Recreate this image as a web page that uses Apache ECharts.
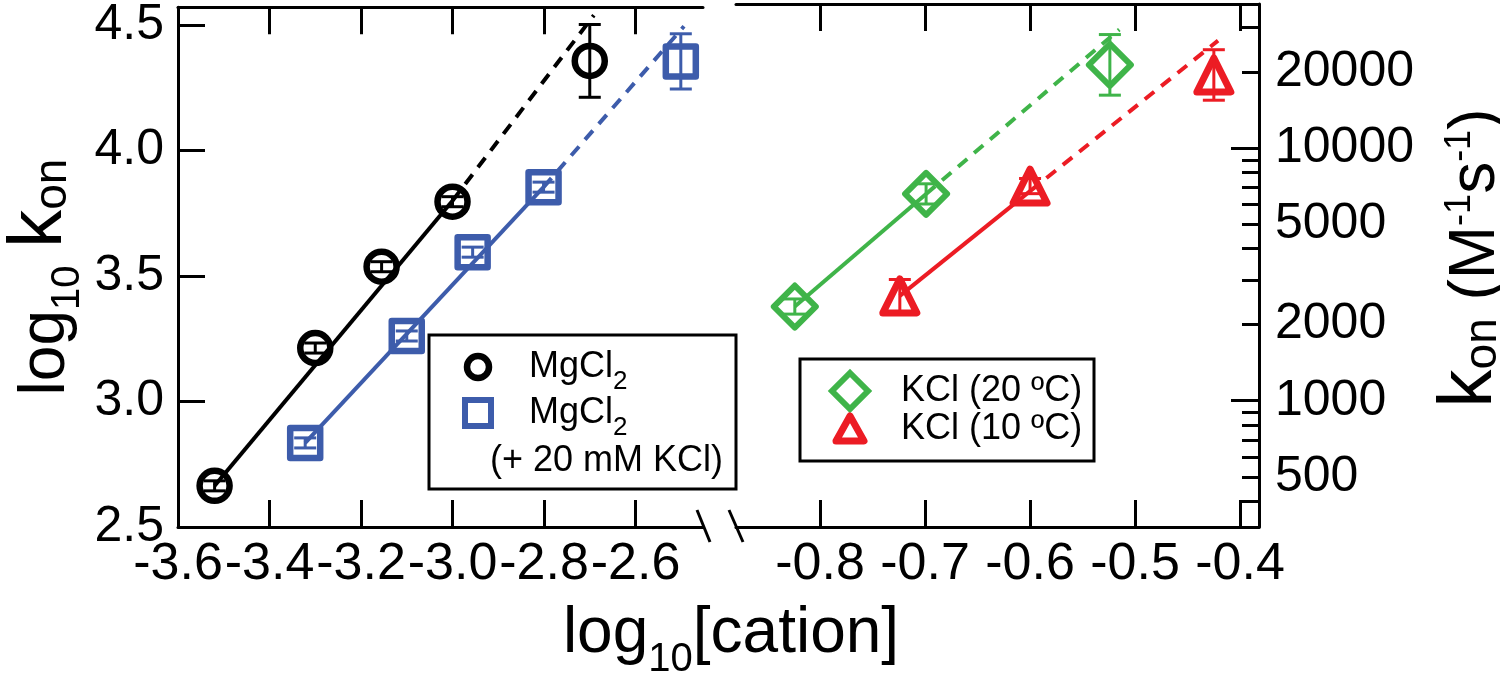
<!DOCTYPE html>
<html>
<head>
<meta charset="utf-8">
<script src="https://cdn.jsdelivr.net/npm/echarts@6.0.0/dist/echarts.min.js"></script>
<style>
html,body{margin:0;padding:0;background:#fff;}
#chart{width:1500px;height:677px;}
</style>
</head>
<body>
<div id="chart"></div>
<script>
// ---- data (log10 units) ----
const mgX   = [-3.52, -3.30, -3.155, -3.00, -2.70];
const mgY   = [2.664, 3.213, 3.537, 3.796, 4.357];
const mgErr = [0.02, 0.02, 0.02, 0.02, 0.145];

const mgKX   = [-3.322, -3.10, -2.956, -2.801, -2.501];
const mgKY   = [2.835, 3.261, 3.595, 3.854, 4.355];
const mgKErr = [0.02, 0.02, 0.02, 0.02, 0.11];

const k20X   = [-0.824, -0.699, -0.524];
const k20Y   = [3.373, 3.819, 4.33];
const k20Err = [0.03, 0.04, 0.12];

const k10X   = [-0.724, -0.600, -0.425];
const k10Y   = [3.415, 3.85, 4.29];
const k10Err = [0.065, 0.03, 0.10];

// fitted lines: solid part and dashed extrapolation
const mgFitSolid  = [[-3.52, 2.664], [-3.0, 3.80]];
const mgFitDash   = [[-3.0, 3.80], [-2.691, 4.539]];
const mgKFitSolid = [[-3.322, 2.835], [-2.801, 3.854]];
const mgKFitDash  = [[-2.801, 3.854], [-2.494, 4.495]];
const k20FitSolid = [[-0.824, 3.373], [-0.699, 3.819]];
const k20FitDash  = [[-0.699, 3.819], [-0.515, 4.47]];
const k10FitSolid = [[-0.724, 3.415], [-0.600, 3.83]];
const k10FitDash  = [[-0.600, 3.83], [-0.421, 4.426]];

// tick labels
const leftXTicks  = [-3.6, -3.4, -3.2, -3.0, -2.8, -2.6];
const rightXTicks = [-0.8, -0.7, -0.6, -0.5, -0.4];
const yTicks      = [2.5, 3.0, 3.5, 4.0, 4.5];
const konLabels   = [500, 1000, 2000, 5000, 10000, 20000];
const konMajor    = [1000, 10000];
const konMinor    = [400, 500, 600, 700, 800, 900, 2000, 3000, 4000, 5000, 6000, 7000, 8000, 9000, 20000, 30000];

// ---- styling ----
const FONT = 'Liberation Sans, Arial, Helvetica, sans-serif';
const BLACK = '#000000', BLUE = '#3d5cab', GREEN = '#3fb449', RED = '#ec1c24';
const AXW = 3;

const chart = echarts.init(document.getElementById('chart'), null, {renderer: 'canvas'});

function xAx(grid, pos, min, max, ticks, labels) {
  return {
    type: 'value', gridIndex: grid, position: pos, min: min, max: max,
    axisLine: {show: true, onZero: false, lineStyle: {color: BLACK, width: AXW}},
    axisTick: {show: true, inside: true, length: 27, customValues: ticks, lineStyle: {color: BLACK, width: AXW}},
    axisLabel: {show: labels, customValues: ticks, margin: 12, color: BLACK, fontSize: 52, fontFamily: FONT,
      formatter: v => v.toFixed(1)},
    splitLine: {show: false}
  };
}

const errRender = (color) => function (params, api) {
  const x = api.value(0), y = api.value(1), e = api.value(2);
  const t = api.coord([x, y + e]), b = api.coord([x, y - e]);
  const hw = 11;
  const st = {stroke: color, lineWidth: 3};
  return {type: 'group', children: [
    {type: 'line', shape: {x1: t[0], y1: t[1], x2: b[0], y2: b[1]}, style: st},
    {type: 'line', shape: {x1: t[0] - hw, y1: t[1], x2: t[0] + hw, y2: t[1]}, style: st},
    {type: 'line', shape: {x1: b[0] - hw, y1: b[1], x2: b[0] + hw, y2: b[1]}, style: st}
  ]};
};

function fit(data, color, dashed, xi, yi) {
  return {type: 'line', data: data, xAxisIndex: xi, yAxisIndex: yi, symbol: 'none', silent: true, z: 2,
    lineStyle: {color: color, width: 4, type: dashed ? [12, 9] : 'solid', opacity: 1}};
}
function pts(name, xs, ys, sym, size, bw, color, xi, yi) {
  return {type: 'scatter', name: name, data: xs.map((x, i) => [x, ys[i]]), xAxisIndex: xi, yAxisIndex: yi,
    symbol: sym, symbolSize: size, z: 3,
    itemStyle: {color: 'rgba(255,255,255,0)', borderColor: color, borderWidth: bw, borderJoin: 'round', opacity: 1}};
}
function errs(xs, ys, es, color, xi, yi) {
  return {type: 'custom', coordinateSystem: 'cartesian2d', xAxisIndex: xi, yAxisIndex: yi, z: 4,
    data: xs.map((x, i) => [x, ys[i], es[i]]), renderItem: errRender(color)};
}

const L = Math.log10;

const option = {
  animation: false,
  backgroundColor: '#ffffff',
  grid: [
    {left: 178, right: 797, top: 4, bottom: 150},
    {left: 736, right: 241, top: 4, bottom: 150}
  ],
  xAxis: [
    xAx(0, 'bottom', -3.6, -2.4525, leftXTicks, true),
    xAx(0, 'top', -3.6, -2.4525, leftXTicks, false),
    xAx(1, 'bottom', -0.88, -0.382, rightXTicks, true),
    xAx(1, 'top', -0.88, -0.382, rightXTicks, false)
  ],
  yAxis: [
    {type: 'value', gridIndex: 0, position: 'left', min: 2.5, max: 4.571,
      axisLine: {show: true, lineStyle: {color: BLACK, width: AXW}},
      axisTick: {show: true, inside: true, length: 27, customValues: yTicks, lineStyle: {color: BLACK, width: AXW}},
      axisLabel: {customValues: yTicks, margin: 14, color: BLACK, fontSize: 50, fontFamily: FONT,
        formatter: v => v.toFixed(1)},
      splitLine: {show: false}},
    {type: 'value', gridIndex: 1, position: 'right', min: 2.5, max: 4.571,
      axisLine: {show: true, lineStyle: {color: BLACK, width: AXW}},
      axisTick: {show: true, inside: true, length: 28, customValues: konMajor.map(L), lineStyle: {color: BLACK, width: AXW}},
      axisLabel: {customValues: konLabels.map(L), margin: 16, color: BLACK, fontSize: 50, fontFamily: FONT,
        formatter: v => String(Math.round(Math.pow(10, v)))},
      splitLine: {show: false}},
    {type: 'value', gridIndex: 1, position: 'right', min: 2.5, max: 4.571,
      axisLine: {show: false},
      axisTick: {show: true, inside: true, length: 17, customValues: konMinor.map(L), lineStyle: {color: BLACK, width: AXW}},
      axisLabel: {show: false},
      splitLine: {show: false}}
  ],
  series: [
    fit(mgFitSolid, BLACK, false, 0, 0), fit(mgFitDash, BLACK, true, 0, 0),
    fit(mgKFitSolid, BLUE, false, 0, 0), fit(mgKFitDash, BLUE, true, 0, 0),
    fit(k20FitSolid, GREEN, false, 2, 1), fit(k20FitDash, GREEN, true, 2, 1),
    fit(k10FitSolid, RED, false, 2, 1), fit(k10FitDash, RED, true, 2, 1),
    pts('MgCl2', mgX, mgY, 'circle', 30, 6.5, BLACK, 0, 0),
    pts('MgCl2 (+ 20 mM KCl)', mgKX, mgKY, 'rect', 30, 6.5, BLUE, 0, 0),
    pts('KCl (20 ºC)', k20X, k20Y, 'diamond', 42, 6, GREEN, 2, 1),
    pts('KCl (10 ºC)', k10X, k10Y, 'triangle', 34, 7, RED, 2, 1),
    errs(mgX, mgY, mgErr, BLACK, 0, 0),
    errs(mgKX, mgKY, mgKErr, BLUE, 0, 0),
    errs(k20X, k20Y, k20Err, GREEN, 2, 1),
    errs(k10X, k10Y, k10Err, RED, 2, 1)
  ],
  graphic: [
    // axis break marks
    {type: 'line', z: 100, shape: {x1: 697, y1: 510, x2: 710, y2: 542}, style: {stroke: BLACK, lineWidth: 3}},
    {type: 'line', z: 100, shape: {x1: 729, y1: 510, x2: 743, y2: 542}, style: {stroke: BLACK, lineWidth: 3}},
    // left legend
    {type: 'rect', z: 100, shape: {x: 429, y: 335, width: 307, height: 154}, style: {fill: '#fff', stroke: BLACK, lineWidth: 3}},
    {type: 'circle', z: 101, shape: {cx: 478, cy: 367, r: 11}, style: {fill: 'none', stroke: BLACK, lineWidth: 6.5}},
    {type: 'text', z: 101, x: 529, y: 367, style: {text: '{m|MgCl}{s|2}', textVerticalAlign: 'middle', fill: BLACK,
      rich: {m: {fontSize: 36, fontFamily: FONT, lineHeight: 36, verticalAlign: 'top'},
             s: {fontSize: 26, fontFamily: FONT, lineHeight: 26, padding: [20, 0, 0, 0], verticalAlign: 'top'}}}},
    {type: 'rect', z: 101, shape: {x: 465, y: 400, width: 26, height: 26}, style: {fill: 'none', stroke: BLUE, lineWidth: 6}},
    {type: 'text', z: 101, x: 529, y: 413, style: {text: '{m|MgCl}{s|2}', textVerticalAlign: 'middle', fill: BLACK,
      rich: {m: {fontSize: 36, fontFamily: FONT, lineHeight: 36, verticalAlign: 'top'},
             s: {fontSize: 26, fontFamily: FONT, lineHeight: 26, padding: [20, 0, 0, 0], verticalAlign: 'top'}}}},
    {type: 'text', z: 101, x: 490, y: 461, style: {text: '(+ 20 mM KCl)', textVerticalAlign: 'middle', fill: BLACK,
      font: '36px ' + FONT}},
    // right legend
    {type: 'rect', z: 100, shape: {x: 800, y: 359, width: 294, height: 102}, style: {fill: '#fff', stroke: BLACK, lineWidth: 3}},
    {type: 'polygon', z: 101, shape: {points: [[850, 373], [868, 391], [850, 409], [832, 391]]}, style: {fill: 'none', stroke: GREEN, lineWidth: 6}},
    {type: 'text', z: 101, x: 901, y: 391, style: {text: 'KCl (20 ºC)', textVerticalAlign: 'middle', fill: BLACK, font: '36px ' + FONT}},
    {type: 'polygon', z: 101, shape: {points: [[850, 416], [864, 441], [836, 441]]}, style: {fill: 'none', stroke: RED, lineWidth: 7, lineJoin: 'round'}},
    {type: 'text', z: 101, x: 901, y: 429, style: {text: 'KCl (10 ºC)', textVerticalAlign: 'middle', fill: BLACK, font: '36px ' + FONT}},
    // bottom axis title
    {type: 'text', z: 101, x: 731, y: 634, style: {text: '{a|log}{s|10}{a|[cation]}', textAlign: 'center', textVerticalAlign: 'middle', fill: BLACK,
      rich: {a: {fontSize: 64, fontFamily: FONT, lineHeight: 64, verticalAlign: 'top'},
             s: {fontSize: 40, fontFamily: FONT, lineHeight: 40, padding: [38, 0, 0, 0], verticalAlign: 'top'}}}},
    // left axis title
    {type: 'text', z: 101, x: 40, y: 277, rotation: Math.PI / 2,
      style: {text: '{a|log}{s|10}{a| }{k|k}{o|on}', textAlign: 'center', textVerticalAlign: 'middle', fill: BLACK,
      rich: {a: {fontSize: 64, fontFamily: FONT, lineHeight: 64, padding: [12, 0, 0, 0], verticalAlign: 'top'},
             s: {fontSize: 40, fontFamily: FONT, lineHeight: 40, padding: [46, 0, 0, 0], verticalAlign: 'top'},
             k: {fontSize: 76, fontFamily: FONT, lineHeight: 76, verticalAlign: 'top'},
             o: {fontSize: 46, fontFamily: FONT, lineHeight: 46, padding: [28, 0, 0, 0], verticalAlign: 'top'}}}},
    // right axis title
    {type: 'text', z: 101, x: 1470, y: 258, rotation: Math.PI / 2,
      style: {text: '{k|k}{o|on}{a| (M}{u|-1}{a|s}{u|-1}{a|)}', textAlign: 'center', textVerticalAlign: 'middle', fill: BLACK,
      rich: {a: {fontSize: 64, fontFamily: FONT, lineHeight: 64, padding: [12, 0, 0, 0], verticalAlign: 'top'},
             u: {fontSize: 36, fontFamily: FONT, lineHeight: 36, padding: [10, 0, 0, 0], verticalAlign: 'top'},
             k: {fontSize: 76, fontFamily: FONT, lineHeight: 76, verticalAlign: 'top'},
             o: {fontSize: 46, fontFamily: FONT, lineHeight: 46, padding: [28, 0, 0, 0], verticalAlign: 'top'}}}}
  ]
};
chart.setOption(option);
</script>
</body>
</html>
